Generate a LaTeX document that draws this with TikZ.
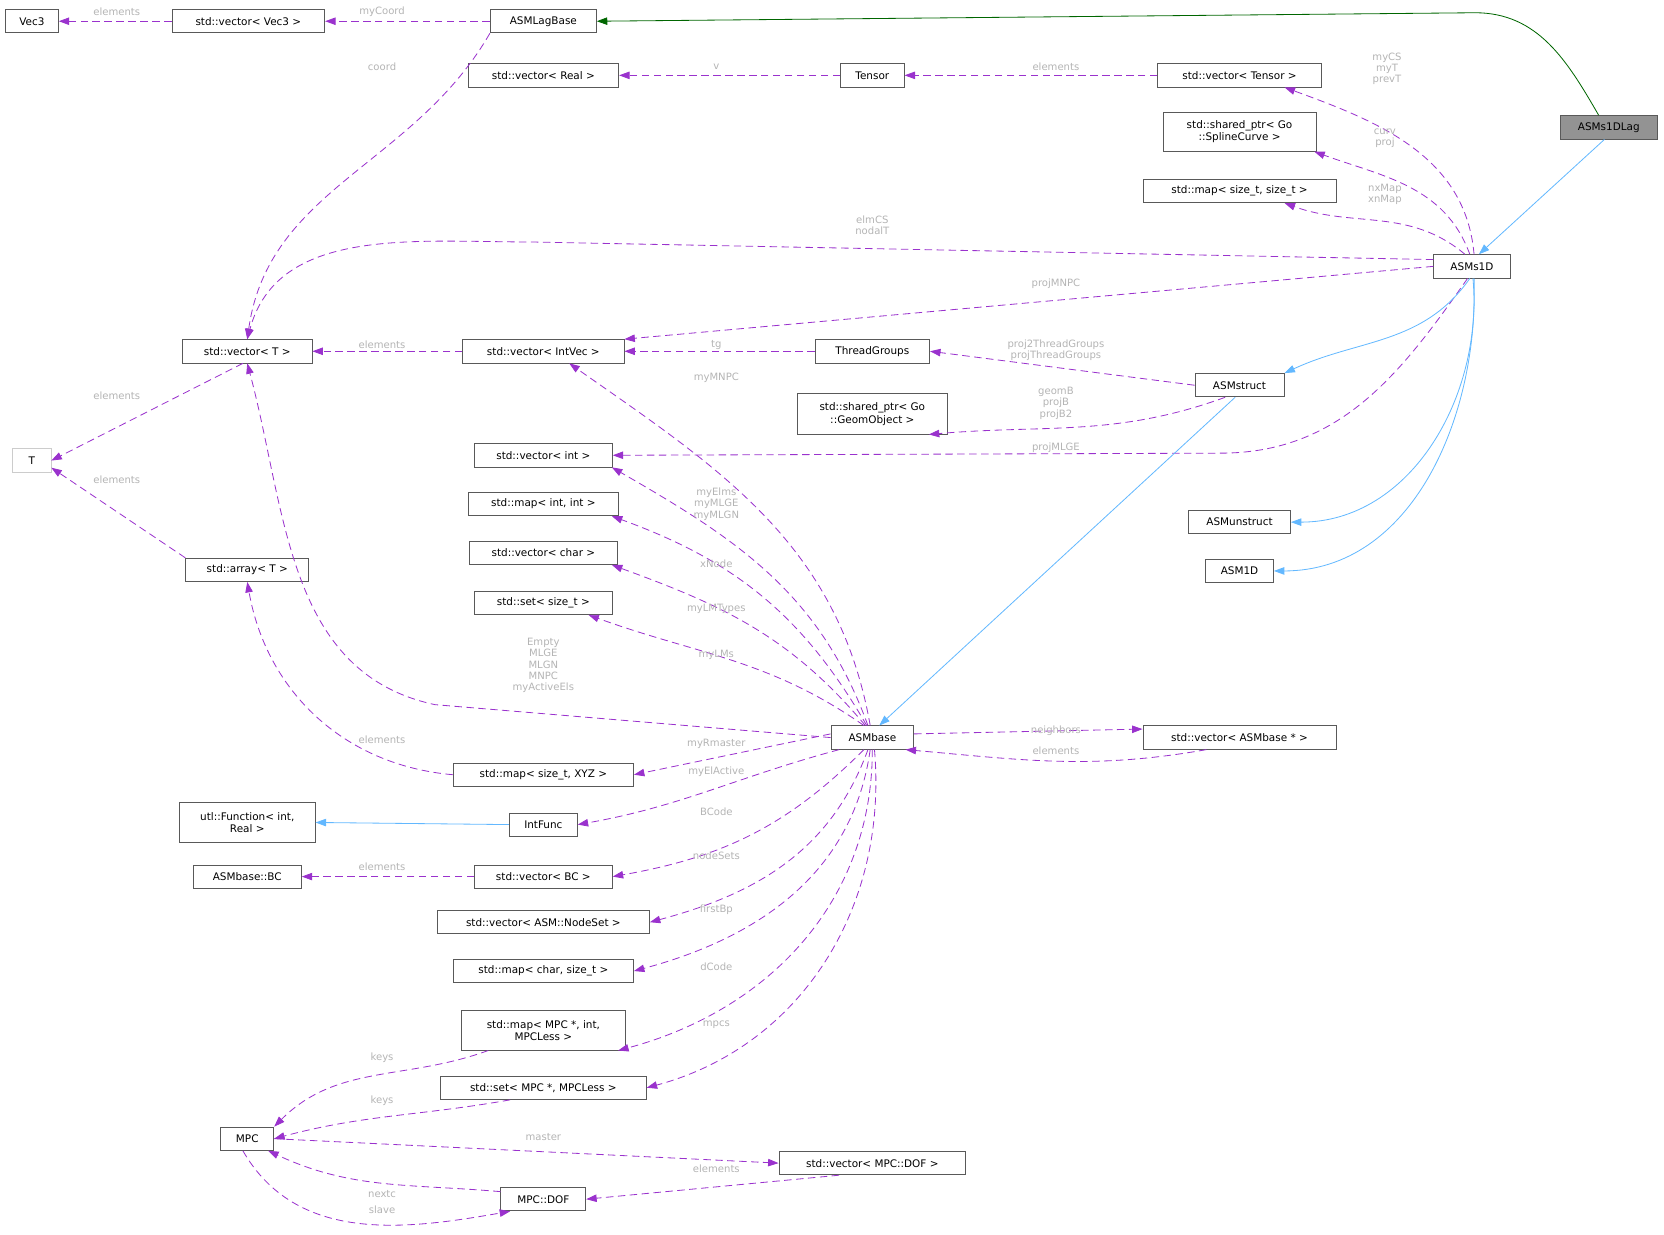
\documentclass[tikz,border=0pt]{standalone}
\usepackage{fontspec}
\setmainfont{DejaVu Sans}
\usetikzlibrary{arrows.meta}
\definecolor{usecol}{HTML}{9A32CD}
\definecolor{inhcol}{HTML}{63B8FF}
\definecolor{labcol}{HTML}{B4B4B4}
\tikzset{
    cls/.style={
        draw=gray!70!black, fill=white, line width=1.1pt, minimum height=1.1cm,
        inner sep=2pt, align=center, font=\fontsize{14}{17}\selectfont
    },
    uses/.style={
        draw=usecol, line width=1.1pt, dash pattern=on 10pt off 6pt,
        -{Stealth[length=14pt, width=10pt, inset=0pt]}
    },
    inherit/.style={
        draw=inhcol, line width=1.1pt,
        -{Stealth[length=14pt, width=10pt, inset=0pt]}
    },
    lab/.style={
        text=labcol, align=center, font=\fontsize{13.5}{15}\selectfont
    },
}
\begin{document}
\begin{tikzpicture}[x=0.05cm, y=-0.05cm]
        \useasboundingbox (0,0) rectangle (1568,1163);

        % CLASSES
        \node[cls, minimum width=2.5cm] (Vecthree)  at (30,20)     {Vec3};
        \node[cls, minimum width=7.2cm] (VecVec)    at (234,20)    {std::vector< Vec3 >};
        \node[cls, minimum width=5cm]   (LagBase)   at (512,20)    {ASMLagBase};
        \node[cls, minimum width=4.6cm, fill=gray!85] (SOneDLag) at (1516,120) {ASMs1DLag};
        \node[cls, minimum width=7.1cm] (VecReal)   at (512,71)    {std::vector< Real >};
        \node[cls, minimum width=3cm]   (Tensor)    at (822,71)    {Tensor};
        \node[cls, minimum width=7.7cm] (VecTensor) at (1168,71)   {std::vector< Tensor >};
        \node[cls, minimum width=7.2cm, minimum height=1.85cm] (Spline) at (1168,124) {std::shared\_ptr< Go\\::SplineCurve >};
        \node[cls, minimum width=9.1cm] (MapSize)   at (1168,180)  {std::map< size\_t, size\_t >};
        \node[cls, minimum width=3.6cm] (SOneD)     at (1387,251)  {ASMs1D};
        \node[cls, minimum width=6.1cm] (VecT)      at (233,331)   {std::vector< T >};
        \node[cls, minimum width=7.6cm] (VecIntVec) at (512,331)   {std::vector< IntVec >};
        \node[cls, minimum width=5.4cm] (Threads)   at (822,331)   {ThreadGroups};
        \node[cls, minimum width=4.2cm] (Struct)    at (1168,363)  {ASMstruct};
        \node[cls, minimum width=7.1cm, minimum height=1.9cm] (Geom) at (822,390) {std::shared\_ptr< Go\\::GeomObject >};
        \node[cls, minimum width=6.5cm] (VecInt)    at (512,429)   {std::vector< int >};
        \node[cls, minimum width=1.8cm, draw=gray!40] (T) at (30,434) {T};
        \node[cls, minimum width=7.1cm] (MapInt)    at (512,475)   {std::map< int, int >};
        \node[cls, minimum width=4.8cm] (Unstruct)  at (1168,492)  {ASMunstruct};
        \node[cls, minimum width=7cm]   (VecChar)   at (512,521)   {std::vector< char >};
        \node[cls, minimum width=5.8cm] (ArrT)      at (233,537)   {std::array< T >};
        \node[cls, minimum width=3.2cm] (OneD)      at (1168,538)  {ASM1D};
        \node[cls, minimum width=6.5cm] (SetSize)   at (512,568)   {std::set< size\_t >};
        \node[cls, minimum width=3.9cm] (Base)      at (822,695)   {ASMbase};
        \node[cls, minimum width=9.1cm] (VecBase)   at (1168,695)  {std::vector< ASMbase * >};
        \node[cls, minimum width=8.5cm] (MapXYZ)    at (512,730)   {std::map< size\_t, XYZ >};
        \node[cls, minimum width=6.4cm, minimum height=1.85cm] (UtlFunc) at (233,775) {utl::Function< int,\\Real >};
        \node[cls, minimum width=3.2cm] (IntFunc)   at (512,777)   {IntFunc};
        \node[cls, minimum width=5.1cm] (BC)        at (233,826)   {ASMbase::BC};
        \node[cls, minimum width=6.5cm] (VecBC)     at (512,826)   {std::vector< BC >};
        \node[cls, minimum width=10cm]  (NodeSet)   at (512,869)   {std::vector< ASM::NodeSet >};
        \node[cls, minimum width=8.5cm] (MapChar)   at (512,915)   {std::map< char, size\_t >};
        \node[cls, minimum width=7.7cm, minimum height=1.85cm] (MapMPC) at (512,971) {std::map< MPC *, int,\\MPCLess >};
        \node[cls, minimum width=9.7cm] (SetMPC)    at (512,1025)  {std::set< MPC *, MPCLess >};
        \node[cls, minimum width=2.5cm] (MPC)       at (233,1073)  {MPC};
        \node[cls, minimum width=8.8cm] (VecDOF)    at (822,1096)  {std::vector< MPC::DOF >};
        \node[cls, minimum width=4cm]   (DOF)       at (512,1130)  {MPC::DOF};

        % BEND POINTS
        \coordinate (GreenBend) at (1390,12);
        \coordinate (ElmBend)   at (500,228);
        \coordinate (MlgeBend)  at (1150,427);
        \coordinate (EmptyBend) at (410,664);

        % TOP ROW
        \draw[uses] (VecVec) -- (Vecthree);
        \draw[uses] (LagBase) -- (VecVec);
        \draw[uses] (LagBase.south west) to[out=-120, in=82] (VecT.north);
        \draw[line width=1.1pt, draw=green!40!black, -{Stealth[length=14pt, width=10pt, inset=0pt]}]
            (SOneDLag.130) to[out=120, in=0] (GreenBend) -- (LagBase.east);
        \draw[inherit] (SOneDLag.250) -- (SOneD.60);
        \draw[uses] (Tensor) -- (VecReal);
        \draw[uses] (VecTensor) -- (Tensor);

        % ASMs1D MEMBERS
        \draw[uses] (SOneD.80)  to[out=95, in=-20]  (VecTensor.-15);
        \draw[uses] (SOneD.100) to[out=110, in=-20] (Spline.-15);
        \draw[uses] (SOneD.120) to[out=140, in=-20] (MapSize.-15);
        \draw[uses] (SOneD.170) -- (ElmBend) to[out=180, in=75] (VecT.north);
        \draw[uses] (SOneD.west) -- (VecIntVec.north east);
        \draw[uses] (SOneD.250) to[out=235, in=0] (MlgeBend) -- (VecInt.east);
        \draw[inherit] (SOneD.260) to[out=-125, in=25] (Struct.north east);
        \draw[inherit] (SOneD.275) to[out=-85, in=0] (Unstruct.east);
        \draw[inherit] (SOneD.280) to[out=-88, in=0] (OneD.east);

        % MIDDLE
        \draw[uses] (VecIntVec) -- (VecT);
        \draw[uses] (Threads) -- (VecIntVec);
        \draw[uses] (Struct.west) -- (Threads.east);
        \draw[uses] (Struct.220) to[out=200, in=5] (Geom.-20);
        \draw[inherit] (Struct.250) -- (Base.60);
        \draw[uses] (VecT.250) -- (T.east);
        \draw[uses] (ArrT.north west) -- (T.-20);
        \draw[uses] (MapXYZ.west) to[out=175, in=-80] (ArrT.south);

        % ASMbase MEMBERS
        \draw[uses] (Base.west) -- (EmptyBend) to[out=168, in=-75] (VecT.south);
        \draw[uses] (Base.100) to[out=100, in=-35] (VecIntVec.-25);
        \draw[uses] (Base.110) to[out=110, in=-30] (VecInt.-10);
        \draw[uses] (Base.115) to[out=120, in=-20] (MapInt.-10);
        \draw[uses] (Base.120) to[out=130, in=-20] (VecChar.-10);
        \draw[uses] (Base.125) to[out=145, in=-20] (SetSize.-15);
        \draw[uses] (Base.175) -- (MapXYZ.east);
        \draw[uses] (Base.200) to[out=195, in=10] (IntFunc.east);
        \draw[uses] (Base.235) to[out=225, in=10] (VecBC.east);
        \draw[uses] (Base.250) to[out=250, in=15] (NodeSet.east);
        \draw[uses] (Base.260) to[out=262, in=15] (MapChar.east);
        \draw[uses] (Base.270) to[out=270, in=15] (MapMPC.-15);
        \draw[uses] (Base.280) to[out=275, in=15] (SetMPC.east);
        \draw[uses] (Base.5) -- (VecBase.175);
        \draw[uses] (VecBase.200) to[out=190, in=-5] (Base.-20);
        \draw[inherit] (IntFunc.west) -- (UtlFunc.east);
        \draw[uses] (VecBC) -- (BC);

        % MPC
        \draw[uses] (MapMPC.200) to[out=200, in=45] (MPC.north east);
        \draw[uses] (SetMPC.200) to[out=190, in=15] (MPC.east);
        \draw[uses] (MPC.east) -- (VecDOF.west);
        \draw[uses] (VecDOF.200) -- (DOF.east);
        \draw[uses] (DOF.170) to[out=175, in=-25] (MPC.-30);
        \draw[uses] (MPC.250) to[out=-60, in=190] (DOF.200);

        % LABELS
        \node[lab] at (110,11)   {elements};
        \node[lab] at (360,11)   {myCoord};
        \node[lab] at (360,63)   {coord};
        \node[lab] at (675,63)   {v};
        \node[lab] at (995,63)   {elements};
        \node[lab] at (1307,65)  {myCS\\myT\\prevT};
        \node[lab] at (1305,130) {curv\\proj};
        \node[lab] at (1305,183) {nxMap\\xnMap};
        \node[lab] at (822,212)  {elmCS\\nodalT};
        \node[lab] at (995,267)  {projMNPC};
        \node[lab] at (360,325)  {elements};
        \node[lab] at (675,325)  {tg};
        \node[lab] at (995,330)  {proj2ThreadGroups\\projThreadGroups};
        \node[lab] at (995,380)  {geomB\\projB\\projB2};
        \node[lab] at (675,356)  {myMNPC};
        \node[lab] at (110,373)  {elements};
        \node[lab] at (995,422)  {projMLGE};
        \node[lab] at (110,452)  {elements};
        \node[lab] at (675,475)  {myElms\\myMLGE\\myMLGN};
        \node[lab] at (675,531)  {xNode};
        \node[lab] at (675,574)  {myLMTypes};
        \node[lab] at (675,617)  {myLMs};
        \node[lab] at (512,627)  {Empty\\MLGE\\MLGN\\MNPC\\myActiveEls};
        \node[lab] at (995,689)  {neighbors};
        \node[lab] at (995,707)  {elements};
        \node[lab] at (360,697)  {elements};
        \node[lab] at (675,701)  {myRmaster};
        \node[lab] at (675,727)  {myElActive};
        \node[lab] at (675,765)  {BCode};
        \node[lab] at (675,806)  {nodeSets};
        \node[lab] at (360,817)  {elements};
        \node[lab] at (675,857)  {firstBp};
        \node[lab] at (675,911)  {dCode};
        \node[lab] at (675,966)  {mpcs};
        \node[lab] at (360,997)  {keys};
        \node[lab] at (360,1037) {keys};
        \node[lab] at (512,1071) {master};
        \node[lab] at (675,1101) {elements};
        \node[lab] at (360,1125) {nextc};
        \node[lab] at (360,1140) {slave};

    \end{tikzpicture}
\end{document}
